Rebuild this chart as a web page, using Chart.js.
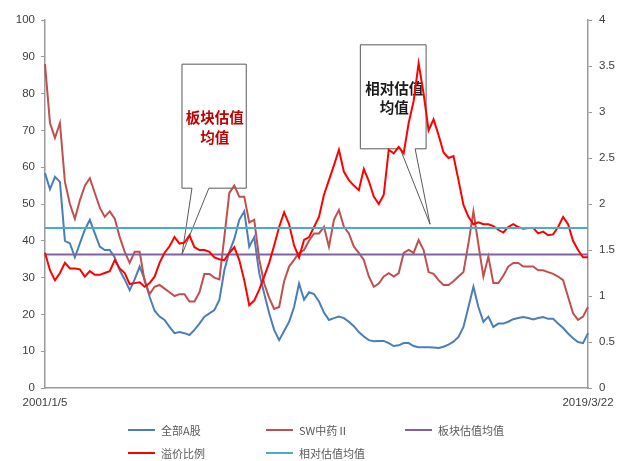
<!DOCTYPE html>
<html lang="zh">
<head>
<meta charset="UTF-8">
<title>板块估值</title>
<script src="https://cdn.jsdelivr.net/npm/chart.js"></script>
<style>
    body { margin: 0; background: #fff; }
    .wrap { position: relative; width: 628px; height: 461px; }
    .legend-item {
        position: absolute; height: 16px; line-height: 16px;
        display: flex; align-items: center; white-space: nowrap;
        font: 11px "Noto Sans CJK SC", sans-serif; color: #595959;
    }
    .legend-item .swatch { display: inline-block; width: 27px; height: 2px; margin-right: 6px; }
</style>
</head>
<body>
<div class="wrap">
    <canvas id="chart" width="628" height="461"></canvas>
    <div id="legend"></div>
</div>
<script>
// x categories: one point every two months, first and last are the real dates
const dates = [];
for (let k = 0; k < 110; k++) {
    const m = 2 * k;
    dates.push((2001 + Math.floor(m / 12)) + '/' + (1 + m % 12));
}
dates[0] = '2001/1/5';
dates[109] = '2019/3/22';

// 全部A股 (left axis)
const allA = [
    58.4, 54, 57.4, 56, 40, 39.3, 35.5, 39.3, 43, 45.7,
    42, 38.4, 37.5, 37.5, 35.5, 32, 29.5, 26.6, 29.5, 33,
    29.5, 24.8, 21, 19.4, 18.5, 16.6, 14.9, 15.2, 14.9, 14.4,
    15.8, 17.5, 19.4, 20.3, 21.2, 23.9, 32, 37, 40.5, 45.7,
    48, 38.4, 41, 31.2, 25.7, 20.3, 15.8, 13, 15.5, 18,
    22, 28.4, 24, 26, 25.5, 23.5, 20.5, 18.5, 19, 19.4,
    19, 18, 16.8, 15.2, 14, 13, 12.7, 12.8, 12.8, 12.2,
    11.4, 11.6, 12.2, 12.2, 11.4, 11.1, 11.1, 11.1, 11, 10.9,
    11.2, 11.8, 12.6, 13.9, 16.6, 22, 27.5, 22, 18, 19.4,
    16.6, 17.5, 17.5, 18, 18.7, 19, 19.3, 19, 18.6, 19,
    19.3, 18.8, 18.8, 17.5, 16.3, 14.8, 13.5, 12.5, 12.2, 14.9
];

// SW中药Ⅱ (left axis)
const swTcm = [
    88, 72, 68, 72, 56, 50, 46, 51, 55, 57,
    53, 49, 46.5, 48, 46, 41, 37, 34, 37, 37,
    29, 25.5, 27.5, 28, 27, 26, 25, 25.5, 25.5, 23.5,
    23.5, 26, 31, 31, 30, 29.5, 41, 53, 55, 52,
    52, 45, 45.7, 35, 28.4, 24.5, 21.5, 22, 29, 33,
    34.8, 36.7, 37.5, 40, 42, 42, 43.8, 38.4, 45.7, 48.4,
    43.8, 42, 38.4, 36.7, 34.8, 30.3, 27.5, 28.4, 30.3, 31.2,
    30.3, 31.2, 36.7, 37.5, 36.7, 40.2, 37.5, 31.5, 31, 29.3,
    28, 28, 29, 30.3, 31.5, 39.3, 48, 39, 30.3, 35.7,
    28.5, 28.5, 30.5, 33, 34, 34, 33, 33, 33, 32,
    32, 31.5, 31, 30.3, 29.3, 24.8, 20.3, 18.5, 19.4, 22
];

// 溢价比例 (right axis)
const premium = [
    1.47, 1.28, 1.17, 1.25, 1.36, 1.30, 1.30, 1.29, 1.21, 1.27,
    1.23, 1.23, 1.25, 1.27, 1.39, 1.30, 1.25, 1.13, 1.14, 1.15,
    1.10, 1.14, 1.21, 1.36, 1.47, 1.54, 1.64, 1.57, 1.58, 1.66,
    1.53, 1.50, 1.50, 1.48, 1.42, 1.40, 1.39, 1.47, 1.53, 1.39,
    1.17, 0.90, 0.95, 1.07, 1.21, 1.36, 1.55, 1.75, 1.91, 1.78,
    1.55, 1.42, 1.61, 1.64, 1.75, 1.86, 2.10, 2.26, 2.42, 2.59,
    2.35, 2.26, 2.20, 2.15, 2.38, 2.25, 2.08, 2.00, 2.10, 2.59,
    2.55, 2.62, 2.55, 2.88, 3.12, 3.53, 3.20, 2.80, 2.92, 2.75,
    2.56, 2.50, 2.52, 2.26, 1.99, 1.86, 1.78, 1.80, 1.78, 1.78,
    1.76, 1.72, 1.69, 1.75, 1.78, 1.75, 1.73, 1.74, 1.74, 1.68,
    1.70, 1.66, 1.67, 1.75, 1.86, 1.78, 1.60, 1.50, 1.42, 1.42
];

const sectorMean = 36.3;    // 板块估值均值 (left axis)
const relativeMean = 1.74;  // 相对估值均值 (right axis)

const leftTicks = { min: 0, max: 100, step: 10 };
const rightTicks = { min: 0, max: 4, step: 0.5 };

const COLORS = {
    allA: '#4A7EBB',
    sw: '#C0504D',
    sector: '#7E62A3',
    premium: '#FF0000',
    relative: '#4BACC6'
};

const first = dates[0], last = dates[dates.length - 1];

// callout boxes, positioned with the chart scales (x = category index)
const callouts = [
    { axis: 'y', x0: 27.5, x1: 40.4, top: 88, bottom: 54.3, baseA: 29.5, baseB: 32.9,
      tipX: 27.5, tipY: sectorMean, tipAxis: 'y',
      lines: ['板块估值', '均值'], textX: 34.1, textY: [73.4, 68.2], color: '#C00000' },
    { axis: 'y1', x0: 63.3, x1: 76.5, top: 3.73, bottom: 2.60, baseA: 71.3, baseB: 74.3,
      tipX: 77.3, tipY: 1.78, tipAxis: 'y1',
      lines: ['相对估值', '均值'], textX: 70.1, textY: [3.26, 3.05], color: '#1a1a1a' }
];

const calloutPlugin = {
    id: 'callouts',
    beforeDatasetsDraw(chart) {
        const c = chart.ctx, xs = chart.scales.x;
        callouts.forEach(o => {
            const ys = chart.scales[o.axis];
            const l = xs.getPixelForValue(o.x0), r = xs.getPixelForValue(o.x1);
            const t = ys.getPixelForValue(o.top), b = ys.getPixelForValue(o.bottom);
            const a = xs.getPixelForValue(o.baseA), bb = xs.getPixelForValue(o.baseB);
            const tx = xs.getPixelForValue(o.tipX), ty = chart.scales[o.tipAxis].getPixelForValue(o.tipY);
            c.save();
            c.beginPath();
            c.moveTo(l, t); c.lineTo(r, t); c.lineTo(r, b); c.lineTo(bb, b);
            c.lineTo(tx, ty); c.lineTo(a, b); c.lineTo(l, b); c.closePath();
            c.fillStyle = '#fff';
            c.fill();
            c.strokeStyle = '#595959';
            c.lineWidth = 1;
            c.stroke();
            c.fillStyle = o.color;
            c.font = 'bold 14.5px "Noto Sans CJK SC", sans-serif';
            c.textAlign = 'center';
            c.textBaseline = 'middle';
            o.lines.forEach((txt, i) => {
                c.fillText(txt, xs.getPixelForValue(o.textX), ys.getPixelForValue(o.textY[i]));
            });
            c.restore();
        });
    }
};

const tickFont = { family: '"Liberation Sans", Arial, sans-serif', size: 11.5 };

new Chart(document.getElementById('chart'), {
    type: 'line',
    data: {
        labels: dates,
        datasets: [
            { label: '全部A股', data: allA, borderColor: COLORS.allA, yAxisID: 'y', order: 5 },
            { label: 'SW中药Ⅱ', data: swTcm, borderColor: COLORS.sw, yAxisID: 'y', order: 4 },
            { label: '板块估值均值', data: [{ x: first, y: sectorMean }, { x: last, y: sectorMean }],
              borderColor: COLORS.sector, yAxisID: 'y', order: 3 },
            { label: '溢价比例', data: premium, borderColor: COLORS.premium, yAxisID: 'y1', order: 2 },
            { label: '相对估值均值', data: [{ x: first, y: relativeMean }, { x: last, y: relativeMean }],
              borderColor: COLORS.relative, yAxisID: 'y1', order: 1 }
        ]
    },
    options: {
        responsive: false,
        animation: false,
        layout: { padding: { top: 20 } },
        elements: {
            point: { radius: 0 },
            line: { borderWidth: 2, tension: 0, fill: false }
        },
        plugins: {
            legend: { display: false },
            tooltip: { enabled: false }
        },
        scales: {
            x: {
                grid: { display: false, drawTicks: false },
                border: { color: '#9a9a9a', width: 1.5 },
                ticks: {
                    autoSkip: false, maxRotation: 0, padding: 8,
                    color: '#404040', font: tickFont,
                    callback: (v, i) => (i === 0 || i === dates.length - 1) ? dates[i] : ''
                },
                afterFit: s => { s.height = 73; }
            },
            y: {
                position: 'left',
                min: leftTicks.min, max: leftTicks.max,
                ticks: { stepSize: leftTicks.step, padding: 6, color: '#404040', font: tickFont },
                grid: { drawOnChartArea: false, tickLength: 4, color: '#9a9a9a' },
                border: { color: '#9a9a9a', width: 1.5 },
                afterFit: s => { s.width = 45; }
            },
            y1: {
                position: 'right',
                min: rightTicks.min, max: rightTicks.max,
                ticks: {
                    stepSize: rightTicks.step, padding: 7, color: '#404040', font: tickFont,
                    callback: v => String(Number(v.toFixed(2)))
                },
                grid: { drawOnChartArea: false, tickLength: 4, color: '#9a9a9a' },
                border: { color: '#9a9a9a', width: 1.5 },
                afterFit: s => { s.width = 40; }
            }
        }
    },
    plugins: [calloutPlugin]
});

// legend laid out in columns like the original
const legendItems = [
    { label: '全部A股', color: COLORS.allA, left: 128, top: 422 },
    { label: 'SW中药Ⅱ', color: COLORS.sw, left: 266, top: 422 },
    { label: '板块估值均值', color: COLORS.sector, left: 405, top: 422 },
    { label: '溢价比例', color: COLORS.premium, left: 128, top: 445 },
    { label: '相对估值均值', color: COLORS.relative, left: 266, top: 445 }
];
const legendBox = document.getElementById('legend');
legendItems.forEach(it => {
    const d = document.createElement('div');
    d.className = 'legend-item';
    d.style.left = it.left + 'px';
    d.style.top = it.top + 'px';
    d.innerHTML = '<span class="swatch" style="background:' + it.color + '"></span>' + it.label;
    legendBox.appendChild(d);
});
</script>
</body>
</html>
